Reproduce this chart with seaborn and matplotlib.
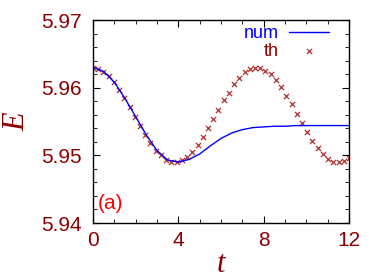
"""Energy vs time, numeric and theory"""

import numpy as np
import pandas as pd
import matplotlib
matplotlib.use('Agg')
import matplotlib.pyplot as plt
import seaborn as sns
from matplotlib.ticker import MultipleLocator

# numerical solution (line)
t_num = [0.0, 0.5, 1.0, 1.5, 2.0, 2.5, 3.0, 3.5, 4.0, 4.5, 5.0, 5.5, 6.0,
         6.5, 7.0, 7.5, 8.0, 8.5, 9.0, 9.5, 10.0, 10.5, 11.0, 11.5, 12.0]
E_num = [5.9630, 5.9624, 5.9608, 5.9584, 5.9557, 5.9530, 5.9507, 5.9493,
         5.9490, 5.9494, 5.9502, 5.9514, 5.9525, 5.9533, 5.9538, 5.9541,
         5.9542, 5.9543, 5.9543, 5.9544, 5.9544, 5.9544, 5.9544, 5.9544,
         5.9544]

# theory (crosses), 50 points from 0 to 12
t_th = np.linspace(0, 12, 50)
E_th = [5.96295, 5.96276, 5.96236, 5.96168, 5.96079, 5.95970, 5.95843,
        5.95710, 5.95571, 5.95433, 5.95300, 5.95178, 5.95068, 5.95005,
        5.94935, 5.94906, 5.94901, 5.94926, 5.94980, 5.95053, 5.95153,
        5.95271, 5.95399, 5.95537, 5.95674, 5.95813, 5.95926, 5.96050,
        5.96147, 5.96227, 5.96271, 5.96295, 5.96286, 5.96251, 5.96197,
        5.96113, 5.96005, 5.95881, 5.95754, 5.95611, 5.95473, 5.95340,
        5.95211, 5.95104, 5.95015, 5.94946, 5.94906, 5.94897, 5.94916,
        5.94956]

df_num = pd.DataFrame({'t': t_num, 'E': E_num})
df_th = pd.DataFrame({'t': t_th, 'E': E_th})

sns.set_style('ticks')
plt.rcParams['font.family'] = ['Liberation Sans', 'DejaVu Sans']

dark = '#8b0000'
fig = plt.figure(figsize=(3.74, 2.79), dpi=100)
ax = fig.add_axes([0.2487, 0.2007, 0.6845, 0.7276])

sns.lineplot(data=df_num, x='t', y='E', color='#0000ff', lw=1.0,
             label='num', ax=ax)
sns.scatterplot(data=df_th, x='t', y='E', marker='x', color='#b03030',
                s=14, linewidth=0.9, label='th', ax=ax)

ax.set_xlim(0, 12)
ax.set_ylim(5.94, 5.97)
ax.xaxis.set_major_locator(MultipleLocator(4))
ax.xaxis.set_minor_locator(MultipleLocator(1))
ax.yaxis.set_major_locator(MultipleLocator(0.01))
ax.yaxis.set_minor_locator(MultipleLocator(0.002))
ax.tick_params(which='both', direction='in', top=True, right=True,
               labelsize=15, labelcolor=dark, color='black')
ax.tick_params(which='major', length=5, width=0.8)
ax.tick_params(which='minor', length=3, width=0.6)
ax.tick_params(axis='x', pad=6)
ax.tick_params(axis='y', pad=8)
for s in ax.spines.values():
    s.set_color('black')
    s.set_linewidth(1.0)

ax.set_xlabel('t', fontsize=22, color=dark, labelpad=0,
              family='Liberation Serif', style='italic')
ax.set_ylabel('E', fontsize=22, color=dark, labelpad=7, rotation=90,
              family='Liberation Serif', style='italic')

ax.text(0.02, 0.05, '(a)', transform=ax.transAxes, color='red',
        fontsize=15, ha='left', va='bottom')

leg = ax.legend(loc='upper right', frameon=False, markerfirst=False,
                fontsize=13, handlelength=2.2, handletextpad=0.6,
                labelspacing=0.05, borderaxespad=0.0, scatterpoints=1,
                bbox_to_anchor=(0.95, 1.01))
leg.get_texts()[0].set_color('#0000ff')
leg.get_texts()[1].set_color(dark)

fig.savefig('out.png', dpi=100)
